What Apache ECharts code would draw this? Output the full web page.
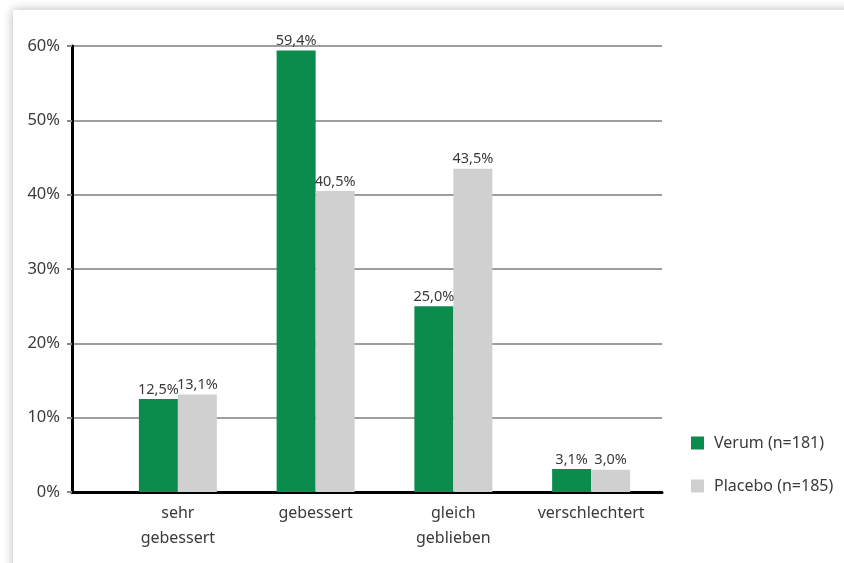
<!DOCTYPE html>
<html><head><meta charset="utf-8">
<script src="https://cdn.jsdelivr.net/npm/echarts@6/dist/echarts.min.js"></script>
<style>html,body{margin:0;padding:0;background:#fff}#c{width:844px;height:563px}</style>
</head><body><div id="c"></div>
<script>
const categories = ['sehr\ngebessert', 'gebessert', 'gleich\ngeblieben', 'verschlechtert'];
const verum = [12.5, 59.4, 25.0, 3.1];
const placebo = [13.1, 40.5, 43.5, 3.0];
const seriesNames = ['Verum (n=181)', 'Placebo (n=185)'];
const yTicks = [0, 10, 20, 30, 40, 50, 60];

const font = 'Noto Sans';
const chart = echarts.init(document.getElementById('c'));
const lbl = {
  show: true, position: 'top', distance: 2, color: '#3a3a3a', fontSize: 14.5, fontFamily: font,
  formatter: p => p.value.toFixed(1).replace('.', ',') + '%'
};
chart.setOption({
  backgroundColor: '#fff',
  animation: false,
  graphic: [{
    type: 'rect', z: -10, silent: true,
    shape: { x: 13, y: 10, width: 900, height: 620 },
    style: { fill: '#fff', shadowBlur: 10, shadowColor: 'rgba(0,0,0,0.28)', shadowOffsetX: 0, shadowOffsetY: 0 }
  }],
  legend: {
    orient: 'vertical', left: 686, top: 430, itemWidth: 13, itemHeight: 13, itemGap: 27,
    icon: 'rect',
    textStyle: { fontSize: 16, color: '#3a3a3a', fontFamily: font, padding: [0, 0, 0, 5] },
    data: seriesNames
  },
  grid: [
    { left: 72, right: 182, top: 46, bottom: 71 },
    { left: 109, right: 184, top: 46, bottom: 71 }
  ],
  xAxis: [
    { gridIndex: 0, type: 'value', min: 0, max: 1, axisLine: { show: true, lineStyle: { color: '#000', width: 3 } },
      axisTick: { show: false }, axisLabel: { show: false }, splitLine: { show: false } },
    { gridIndex: 1, type: 'category', data: categories,
      axisLine: { show: false }, axisTick: { show: false },
      axisLabel: { interval: 0, margin: 9, fontSize: 16, lineHeight: 25, color: '#3a3a3a', fontFamily: font } }
  ],
  yAxis: [
    { gridIndex: 0, type: 'value', min: yTicks[0], max: yTicks[yTicks.length - 1], interval: 10,
      axisLine: { show: true, lineStyle: { color: '#000', width: 3 } },
      axisTick: { show: true, length: 5, lineStyle: { color: '#888', width: 2 } },
      axisLabel: { margin: 12, fontSize: 16.5, color: '#3a3a3a', fontFamily: font, formatter: v => v + '%' },
      splitLine: { show: true, lineStyle: { color: '#9e9e9e', width: 2 } } },
    { gridIndex: 1, type: 'value', min: yTicks[0], max: yTicks[yTicks.length - 1],
      show: false, splitLine: { show: false } }
  ],
  series: [
    { name: seriesNames[0], type: 'bar', xAxisIndex: 1, yAxisIndex: 1, data: verum,
      barWidth: 39, barGap: '0%', itemStyle: { color: '#0b8c4c' }, label: lbl },
    { name: seriesNames[1], type: 'bar', xAxisIndex: 1, yAxisIndex: 1, data: placebo,
      barWidth: 39, barGap: '0%', itemStyle: { color: '#d0d0d0' }, label: lbl }
  ]
});
</script></body></html>
